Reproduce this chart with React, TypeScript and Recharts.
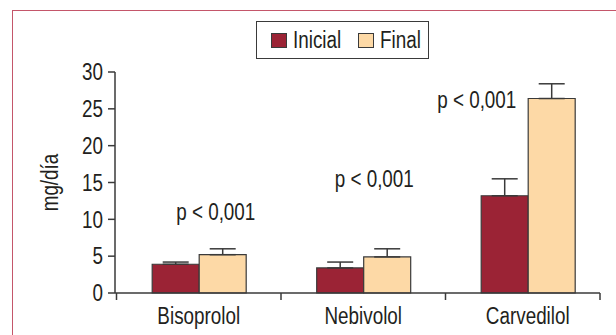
import React from 'react';
import { BarChart, Bar, XAxis, YAxis, ErrorBar, Legend, ReferenceDot } from 'recharts';

const drugs = ['Bisoprolol', 'Nebivolol', 'Carvedilol'];
const seriesNames = ['Inicial', 'Final'];
const inicial = [3.9, 3.4, 13.2];
const inicialErr = [0.3, 0.8, 2.3];
const final = [5.2, 4.9, 26.4];
const finalErr = [0.8, 1.1, 2.0];
const yTicks = [0, 5, 10, 15, 20, 25, 30];
const pTexts = ['p < 0,001', 'p < 0,001', 'p < 0,001'];
const pLevels = [11.0, 15.5, 26.2];

const data = drugs.map((drug, i) => ({
  drug,
  inicial: inicial[i],
  inicialErr: [0, inicialErr[i]],
  final: final[i],
  finalErr: [0, finalErr[i]],
}));

// horizontal nudge of the p labels, px from the category centre
const pShift = [17, 11, -51];

const FONT = "'Liberation Sans', Arial, sans-serif";
const SQUEEZE = 0.82; // fake a condensed face
const INK = '#231f20';
const LINE = '#3a3a3a';
const PAD_RIGHT = -10;

const Narrow = ({ x, y, anchor = 'middle', dy, children }: any) => (
  <g transform={`translate(${x},${y}) scale(${SQUEEZE},1)`}>
    <text x={0} y={0} dy={dy} textAnchor={anchor} fontSize={23} fill={INK} fontFamily={FONT}>
      {children}
    </text>
  </g>
);

const DrugTick = (props: any) => {
  const { x, y, payload, index, visibleTicksCount } = props;
  const half = payload.offset ?? 0;
  const last = index === visibleTicksCount - 1;
  return (
    <g>
      <line x1={x - half} x2={x - half} y1={y - 7} y2={y} stroke={LINE} strokeWidth={1.5} />
      {last && (
        <line x1={x + half + PAD_RIGHT} x2={x + half + PAD_RIGHT} y1={y - 7} y2={y} stroke={LINE} strokeWidth={1.5} />
      )}
      <Narrow x={x} y={y + 24}>{payload.value}</Narrow>
    </g>
  );
};

const ValueTick = (props: any) => {
  const { x, y, payload } = props;
  return <Narrow x={x} y={y} anchor="end" dy="0.36em">{payload.value}</Narrow>;
};

const LegendBox = (props: any) => {
  const items = [...(props.payload || [])].sort(
    (a: any, b: any) => seriesNames.indexOf(a.value) - seriesNames.indexOf(b.value)
  );
  return (
    <div
      style={{
        boxSizing: 'border-box',
        width: 173,
        height: 38,
        border: `1.5px solid ${LINE}`,
        display: 'flex',
        alignItems: 'center',
        paddingLeft: 14,
        fontFamily: FONT,
        fontSize: 23,
        color: INK,
        background: '#fff',
      }}
    >
      {items.map((it: any, i: number) => (
        <div key={it.value} style={{ display: 'flex', alignItems: 'center', marginRight: i === 0 ? 15 : 0 }}>
          <span
            style={{
              display: 'inline-block',
              boxSizing: 'border-box',
              width: 16,
              height: 15,
              background: it.color,
              border: `1.5px solid ${LINE}`,
              marginRight: 6,
            }}
          />
          <span
            style={{
              display: 'inline-block',
              lineHeight: '23px',
              transform: `scaleX(${SQUEEZE})`,
              transformOrigin: 'left center',
              width: i === 0 ? 50 : 40,
              whiteSpace: 'nowrap',
            }}
          >
            {it.value}
          </span>
        </div>
      ))}
    </div>
  );
};

const AxisTitle = (props: any) => {
  const { viewBox } = props;
  const cy = viewBox.y + viewBox.height / 2;
  return (
    <g transform={`translate(${viewBox.x + 58},${cy}) rotate(-90) scale(${SQUEEZE},1)`}>
      <text x={0} y={0} textAnchor="middle" fontSize={23} fill={INK} fontFamily={FONT}>
        mg/día
      </text>
    </g>
  );
};

export default function App() {
  return (
    <div style={{ position: 'absolute', left: 0, top: 0, width: 616, height: 335, overflow: 'hidden', background: '#fff' }}>
      <div
        style={{
          position: 'absolute',
          left: 12,
          top: 10,
          width: 800,
          height: 500,
          borderLeft: '1px solid #c4566a',
          borderTop: '1px solid #c4566a',
        }}
      />
      <BarChart
        width={616}
        height={335}
        data={data}
        margin={{ top: 72, right: 16, bottom: 12, left: 0 }}
        barCategoryGap="21.7%"
        barGap={0}
        style={{ position: 'absolute', left: 0, top: 0 }}
      >
        <XAxis
          dataKey="drug"
          height={30}
          padding={{ left: 1.5, right: PAD_RIGHT }}
          axisLine={{ stroke: LINE, strokeWidth: 1.5 }}
          tickLine={false}
          tickSize={7}
          tickMargin={0}
          tick={<DrugTick />}
          interval={0}
        />
        <XAxis xAxisId="top" orientation="top" dataKey="drug" height={0} tick={false} tickLine={false} axisLine={{ stroke: LINE, strokeWidth: 1.5 }} />
        <YAxis
          width={115}
          domain={[0, 30]}
          ticks={yTicks}
          interval={0}
          tickSize={7}
          tickMargin={5}
          axisLine={{ stroke: LINE, strokeWidth: 1.5 }}
          tickLine={{ stroke: LINE, strokeWidth: 1.5 }}
          tick={<ValueTick />}
          label={{ content: <AxisTitle /> }}
        />
        <YAxis yAxisId="r" orientation="right" width={0} domain={[0, 30]} tick={false} tickLine={false} axisLine={{ stroke: LINE, strokeWidth: 1.5 }} />
        <Legend
          layout="horizontal"
          verticalAlign="middle"
          align="center"
          wrapperStyle={{ left: 256, top: 21, width: 173, height: 38 }}
          content={<LegendBox />}
        />
        <Bar dataKey="inicial" name={seriesNames[0]} fill="#9b2335" stroke={LINE} strokeWidth={1.2} isAnimationActive={false}>
          <ErrorBar dataKey="inicialErr" direction="y" width={13} stroke={LINE} strokeWidth={1.5} />
        </Bar>
        <Bar dataKey="final" name={seriesNames[1]} fill="#fdd9a6" stroke={LINE} strokeWidth={1.2} isAnimationActive={false}>
          <ErrorBar dataKey="finalErr" direction="y" width={13} stroke={LINE} strokeWidth={1.5} />
        </Bar>
        {drugs.map((d, i) => (
          <ReferenceDot
            key={d}
            x={d}
            y={pLevels[i]}
            r={0}
            fill="none"
            stroke="none"
            ifOverflow="visible"
            label={{
              content: (lp: any) => (
                <Narrow x={lp.viewBox.x + pShift[i]} y={lp.viewBox.y + 8}>
                  {pTexts[i]}
                </Narrow>
              ),
            }}
          />
        ))}
      </BarChart>
    </div>
  );
}
